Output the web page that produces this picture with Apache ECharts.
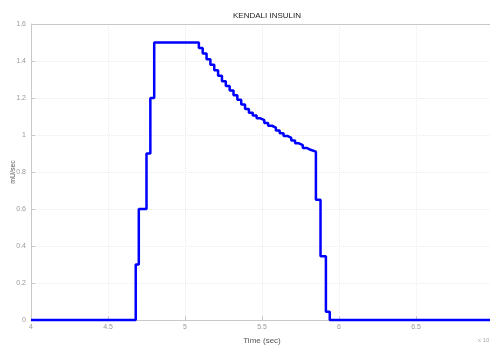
<!DOCTYPE html>
<html>
<head>
<meta charset="utf-8">
<script src="https://cdn.jsdelivr.net/npm/echarts@6/dist/echarts.min.js"></script>
<style>
html,body{margin:0;padding:0;background:#fff;}
#c{width:490px;height:347px;}
</style>
</head>
<body>
<div id="c"></div>
<script>
// Time (sec) at which each value starts (held until the next time)
var times = [4.0, 4.68, 4.70, 4.75, 4.775, 4.80,
  5.09, 5.115, 5.14, 5.165, 5.19, 5.215, 5.24, 5.265, 5.29, 5.315, 5.34, 5.365, 5.39, 5.415,
  5.44, 5.465, 5.49, 5.515, 5.54, 5.565, 5.59, 5.615, 5.64, 5.665, 5.69, 5.715, 5.74, 5.765, 5.79, 5.815,
  5.85, 5.88, 5.915, 5.94, 7.0];
// Insulin rate (mU/sec)
var values = [0, 0.3, 0.6, 0.9, 1.2, 1.5,
  1.47, 1.44, 1.41, 1.38, 1.35, 1.32, 1.29, 1.265, 1.24, 1.215, 1.19, 1.165, 1.14, 1.12,
  1.105, 1.09, 1.08, 1.065, 1.05, 1.04, 1.025, 1.01, 0.995, 0.985, 0.97, 0.955, 0.945, 0.93, 0.92, 0.91,
  0.65, 0.345, 0.045, 0, 0];
var xTicks = [4, 4.5, 5, 5.5, 6, 6.5, 7];
var yTicks = [0, 0.2, 0.4, 0.6, 0.8, 1, 1.2, 1.4, 1.6];
var titleText = 'KENDALI INSULIN';
var xName = 'Time (sec)';
var yName = 'mU/sec';

var data = times.map(function(t, i){ return [t, values[i]]; });
var font = 'Liberation Sans, Arial, sans-serif';
var chart = echarts.init(document.getElementById('c'));
chart.setOption({
  animation: false,
  backgroundColor: '#ffffff',
  title: {
    text: titleText, left: 262, top: 7, textAlign: 'center',
    textStyle: {fontSize: 8, fontWeight: 'normal', color: '#222', fontFamily: font}
  },
  graphic: [
    {type: 'text', left: 478, top: 337, z: 100, style: {text: 'x 10', fontSize: 6, fill: '#aaa', fontFamily: font}},
    {type: 'line', z: 100, shape: {x1: 31, y1: 24.5, x2: 490, y2: 24.5}, style: {stroke: '#c8c8c8', lineWidth: 1}},
    {type: 'text', z: 100, x: 13, y: 172, rotation: Math.PI / 2,
      style: {text: yName, fontSize: 7, fill: '#555', fontFamily: font, align: 'center', verticalAlign: 'middle'}}
  ],
  grid: {left: 31, top: 24, width: 462, height: 296, containLabel: false, outerBoundsMode: 'none'},
  xAxis: {
    type: 'value', min: 4, max: 7, interval: 0.5,
    name: xName, nameLocation: 'middle', nameGap: 17,
    nameTextStyle: {fontSize: 8, color: '#555', fontFamily: font},
    axisLine: {show: true, onZero: false, lineStyle: {color: '#c8c8c8', width: 1}},
    axisTick: {show: true, inside: true, length: 4, lineStyle: {color: '#c8c8c8'}},
    axisLabel: {fontSize: 7, color: '#999', margin: 4, fontFamily: font,
      formatter: function(v){ return String(v); }},
    splitLine: {show: true, lineStyle: {color: '#ececec', width: 1, type: 'dotted'}}
  },
  yAxis: {
    type: 'value', min: 0, max: 1.6, interval: 0.2,
    axisLine: {show: true, lineStyle: {color: '#c8c8c8', width: 1}},
    axisTick: {show: true, inside: true, length: 4, lineStyle: {color: '#c8c8c8'}},
    axisLabel: {fontSize: 7, color: '#999', margin: 5, fontFamily: font,
      formatter: function(v){ return String(Math.round(v * 10) / 10); }},
    splitLine: {show: true, lineStyle: {color: '#ececec', width: 1, type: 'dotted'}}
  },
  series: [{
    type: 'line', data: data, step: 'end', showSymbol: false, symbol: 'none',
    lineStyle: {color: '#0000ff', width: 2.5}, clip: false
  }]
});
</script>
</body>
</html>
